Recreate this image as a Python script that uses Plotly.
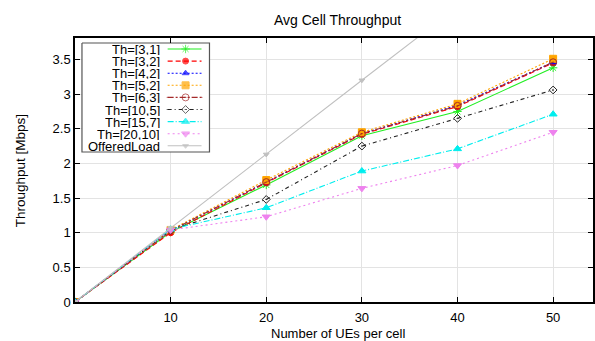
import plotly.graph_objects as go

ues = [0, 10, 20, 30, 40, 50]
th_3_1 = [0, 1.01, 1.69, 2.40, 2.75, 3.38]
th_3_2 = [0, 1.00, 1.72, 2.42, 2.82, 3.45]
th_4_2 = [0, 1.03, 1.73, 2.43, 2.84, 3.46]
th_5_2 = [0, 1.04, 1.76, 2.45, 2.86, 3.51]
th_6_3 = [0, 1.03, 1.73, 2.43, 2.83, 3.46]
th_10_5 = [0, 1.04, 1.48, 2.25, 2.65, 3.06]
th_15_7 = [0, 1.05, 1.36, 1.89, 2.21, 2.71]
th_20_10 = [0, 1.04, 1.23, 1.64, 1.97, 2.45]
offered = [0, 1.07, 2.13, 3.20, 4.26, 5.32]

names = ["Th=[3,1]", "Th=[3,2]", "Th=[4,2]", "Th=[5,2]", "Th=[6,3]",
         "Th=[10,5]", "Th=[15,7]", "Th=[20,10]", "OfferedLoad"]
series = [th_3_1, th_3_2, th_4_2, th_5_2, th_6_3, th_10_5, th_15_7, th_20_10, offered]
colors = ["#22ee22", "#ff0000", "#0000ff", "#ffa500", "#a52a2a",
          "#222222", "#00eeee", "#ee82ee", "#c0c0c0"]
symbols = ["asterisk-open", "circle", "triangle-up", "square", "circle-open-dot",
           "diamond-open-dot", "triangle-up", "triangle-down", "triangle-down"]
dashes = ["solid", "5px,3px", "2px,2px", "2px,2px", "6px,2px,2px,2px",
          "4px,3px,1px,3px", "6px,2px,1px,2px", "2px,3px", "solid"]
msizes = [7, 6, 6, 7, 7, 6, 7, 7, 5]

FONT = "Liberation Sans, Arial, sans-serif"
FS = 13
W, H = 595, 341
L, R, T, B = 75, 0, 38, 39
pw, ph = W - L - R, H - T - B

fig = go.Figure()
for n, s, c, sym, d, ms in zip(names, series, colors, symbols, dashes, msizes):
    fig.add_trace(go.Scatter(
        x=ues, y=s, mode="lines+markers", name=n,
        line=dict(color=c, width=1.1, dash=d),
        marker=dict(symbol=sym, size=ms, color=c, line=dict(color=c, width=1)),
        showlegend=False, xaxis="x", yaxis="y"))

# custom legend (text on the left, samples on the right) in a pixel-based overlay axis
bx0, bx1, by0, by1 = 82, 210, 43, 152
fig.add_trace(go.Scatter(
    x=[bx0, bx1, bx1, bx0, bx0], y=[by0, by0, by1, by1, by0],
    mode="lines", fill="toself", fillcolor="white",
    line=dict(color="#555555", width=1.2), showlegend=False,
    hoverinfo="skip", xaxis="x2", yaxis="y2"))
row0, drow = 49, 12.1
for i, (n, c, sym, d, ms) in enumerate(zip(names, colors, symbols, dashes, msizes)):
    yy = row0 + i * drow
    fig.add_trace(go.Scatter(
        x=[168, 186, 202], y=[yy, yy, yy], mode="lines+markers",
        line=dict(color=c, width=1.1, dash=d),
        marker=dict(symbol=sym, size=[0, ms, 0], color=c, line=dict(color=c, width=1)),
        showlegend=False, hoverinfo="skip", xaxis="x2", yaxis="y2"))
    fig.add_annotation(x=161, y=yy, xref="x2", yref="y2", text=n, showarrow=False,
                       xanchor="right", yanchor="middle", borderpad=0, height=12,
                       valign="middle",
                       font=dict(family=FONT, size=13, color="black"))

fig.update_layout(
    width=W, height=H, margin=dict(l=L, r=R, t=T, b=B),
    paper_bgcolor="white", plot_bgcolor="rgba(0,0,0,0)",
    font=dict(family=FONT, size=FS, color="black"),
    xaxis=dict(range=[0, 54.17], tickvals=[10, 20, 30, 40, 50],
               ticktext=["10", "20", "30", "40", "50"],
               ticks="inside", ticklen=5, tickcolor="black", ticklabelstandoff=3,
               showline=True, linecolor="black", linewidth=1.5, mirror="ticks",
               showgrid=True, gridcolor="#e3e3e3", gridwidth=1, zeroline=False,
               tickfont=dict(family=FONT, size=FS)),
    yaxis=dict(range=[0, 3.81], tickvals=[0, 0.5, 1, 1.5, 2, 2.5, 3, 3.5],
               ticktext=["0", "0.5", "1", "1.5", "2", "2.5", "3", "3.5"],
               ticks="inside", ticklen=5, tickcolor="black",
               showline=True, linecolor="black", linewidth=1.5, mirror="ticks",
               showgrid=True, gridcolor="#e3e3e3", gridwidth=1, zeroline=False,
               tickfont=dict(family=FONT, size=FS)),
    xaxis2=dict(overlaying="x", range=[L, W], visible=False,
                anchor="y2", fixedrange=True),
    yaxis2=dict(overlaying="y", range=[T + ph, T], visible=False,
                anchor="x2", fixedrange=True),
    showlegend=False,
)

fig.add_annotation(x=(339 - L) / pw, y=(T + ph - 20) / ph, xref="paper", yref="paper",
                   text="Avg Cell Throughput", showarrow=False,
                   font=dict(family=FONT, size=14), xanchor="center", yanchor="middle")
fig.add_annotation(x=(339 - L) / pw, y=-(333 - (T + ph)) / ph, xref="paper", yref="paper",
                   text="Number of UEs per cell", showarrow=False, borderpad=0,
                   font=dict(family=FONT, size=FS), xanchor="center", yanchor="middle")
fig.add_annotation(x=-(L - 20) / pw, y=(T + ph - 171) / ph, xref="paper", yref="paper",
                   text="Throughput [Mbps]", showarrow=False, textangle=-90,
                   font=dict(family=FONT, size=13.5), xanchor="center", yanchor="middle")

fig.write_html("out.html")
